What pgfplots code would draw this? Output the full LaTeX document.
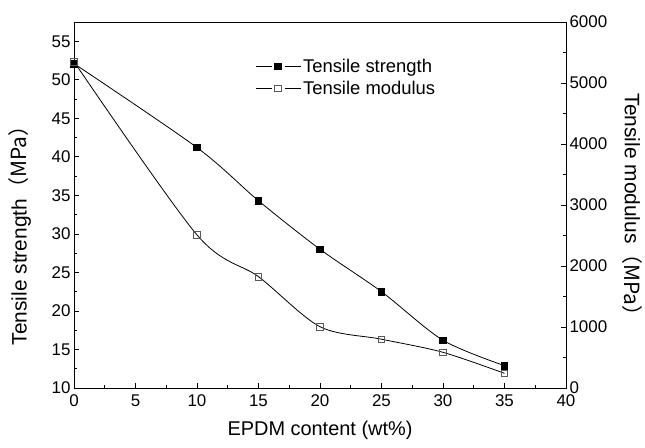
\documentclass[border=0pt]{standalone}
\usepackage{pgfplots}
\pgfplotsset{compat=1.18}
\usepackage{fontspec}
\setmainfont{Liberation Sans}
\newfontfamily\cjk{Noto Sans CJK SC}
\begin{document}
\begin{tikzpicture}
\pgfplotsset{
  common/.style={
    scale only axis, width=492bp, height=366bp,
    at={(0,0)}, anchor=south west,
    xmin=0, xmax=40,
    /pgf/number format/assume math mode=true,
    tick align=inside,
    major tick length=5bp, minor tick length=3bp,
    tick style={black, line width=0.7bp},
    axis line style={line width=0.8bp},
    ticklabel style={font=\fontsize{17}{20}\selectfont},
    label style={font=\fontsize{20}{24}\selectfont},
  }
}
\begin{axis}[common,
  ymin=10, ymax=57.5,
  xtick pos=bottom, ytick pos=left,
  xtick={0,5,...,40}, minor x tick num=1,
  ytick={10,15,...,55}, minor y tick num=1,
  xlabel={EPDM content (wt\%)},
  ylabel={Tensile strength\cjk{（}MPa\cjk{）}},
  xlabel style={at={(axis description cs:0.5,-0.117)}, anchor=center},
  ylabel style={at={(axis description cs:-0.11,0.43)}, anchor=center, font=\fontsize{21}{24}\selectfont},
  xticklabel style={yshift=-3bp},
]
\addplot[black, line width=0.8bp, smooth, mark=square*, mark size=3.3bp, mark options={solid, fill=black}] coordinates {
(0,52.1) (10,41.2) (15,34.3) (20,28.0) (25,22.5) (30,16.2) (35,12.9)
};
\draw[black, line width=0.8bp] (rel axis cs:0,1) -- (rel axis cs:1,1);
\end{axis}
\begin{axis}[common,
  ymin=0, ymax=6000,
  axis y line*=right, axis x line=none,
  ytick={0,1000,...,6000}, minor y tick num=1,
  scaled y ticks=false,
  yticklabel style={/pgf/number format/.cd, fixed, 1000 sep={}},
  ylabel={Tensile modulus\cjk{（}MPa\cjk{）}},
  ylabel style={at={(axis description cs:1.136,0.486)}, anchor=center, rotate=180, font=\fontsize{21}{24}\selectfont},
  legend style={draw=none, fill=none, at={(axis description cs:0.368,0.905)}, anchor=north west,
    font=\fontsize{18.5}{22}\selectfont, row sep=3bp, inner sep=0pt},
  legend cell align=left,
  legend image code/.code={
    \draw[#1, mark=none] (0bp,0bp) -- (16bp,0bp);
    \draw[#1, mark=none] (29bp,0bp) -- (45bp,0bp);
    \draw[#1] plot coordinates {(22.5bp,0bp)};},
]
\addlegendimage{black, line width=0.8bp, mark=square*, mark size=3.3bp, mark options={solid, fill=black}}
\addlegendentry{Tensile strength}
\addplot[black, line width=0.8bp, smooth, mark=square, mark size=3.3bp, mark options={solid, draw=black!65, fill=white}] coordinates {
(0,5350) (10,2510) (15,1825) (20,1005) (25,800) (30,585) (35,240)
};
\addlegendentry{Tensile modulus}
\end{axis}
\pgfresetboundingbox
\path[use as bounding box] (-74bp,-60bp) rectangle (571bp,388bp);
\end{tikzpicture}
\end{document}
